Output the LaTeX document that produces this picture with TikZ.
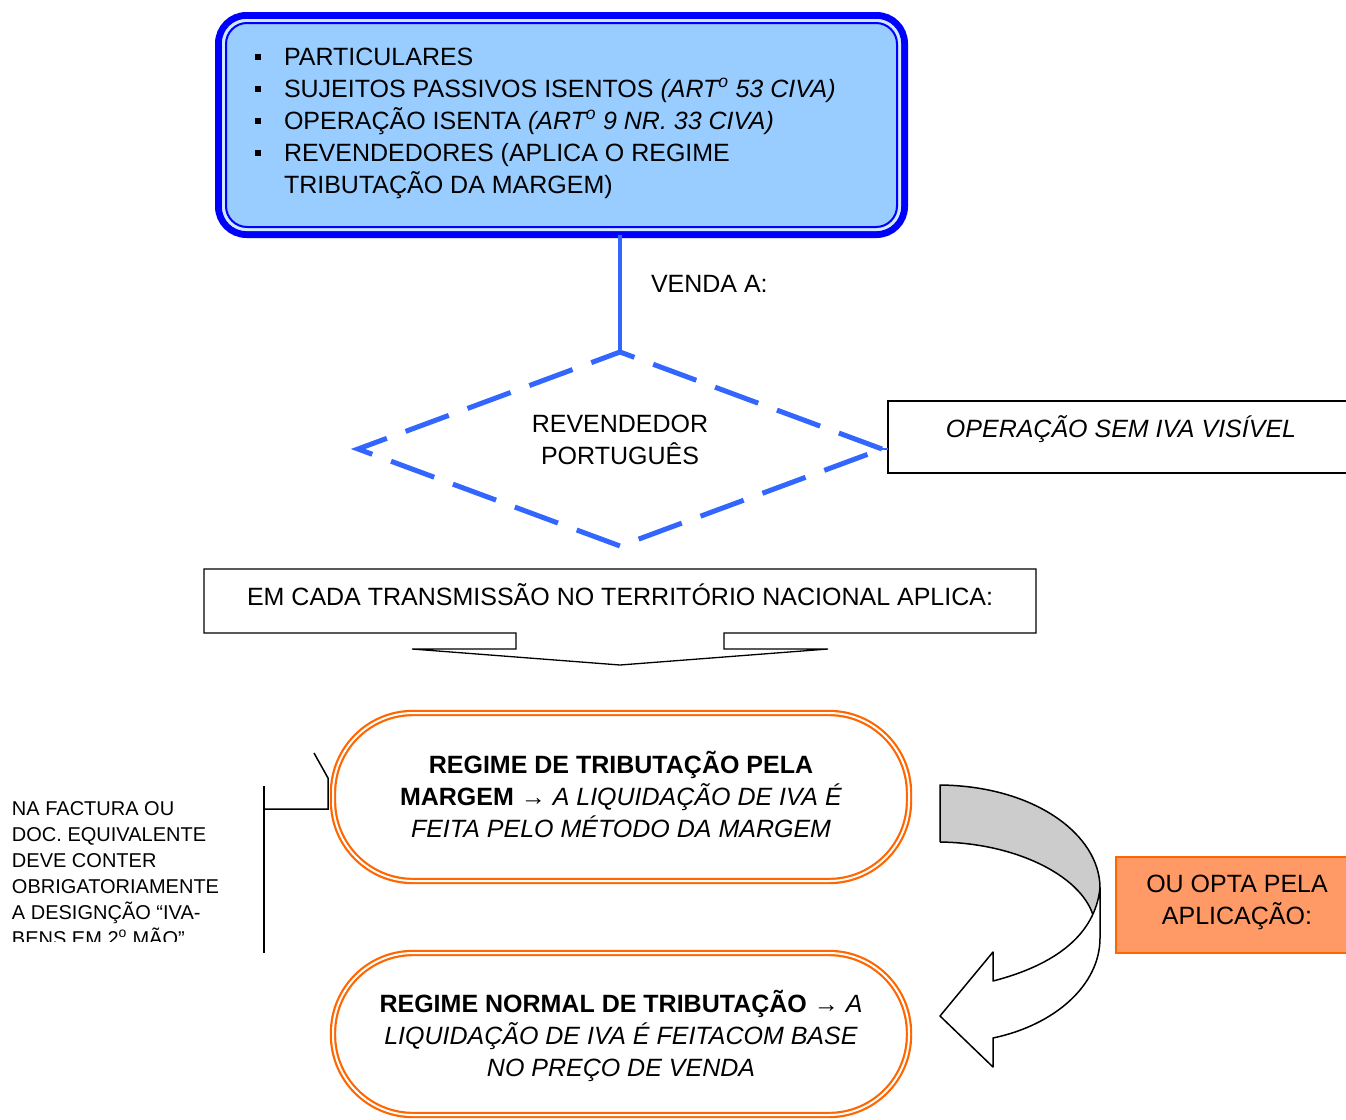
\documentclass[tikz,border=0pt]{standalone}
\usepackage{fontspec}
\setmainfont{Liberation Sans}
\usetikzlibrary{shapes.geometric}
\definecolor{boxblue}{HTML}{99CCFF}
\definecolor{deepblue}{HTML}{0000FF}
\definecolor{linkblue}{HTML}{3366FF}
\definecolor{orng}{HTML}{FF6600}
\definecolor{lorng}{HTML}{FF9966}
\definecolor{arrgray}{HTML}{CCCCCC}
\tikzset{
 base/.style={inner sep=0pt, outer sep=0pt},
 txt/.style={base, font=\fontsize{25}{32}\selectfont},
 smalltxt/.style={base, font=\fontsize{20}{26}\selectfont},
 bulletsq/.style={base, fill=black, minimum size=6pt},
 stadium/.style={base, rectangle, rounded corners=80pt, draw=orng, line width=2.2pt, double=white, double distance=2pt, minimum width=576pt},
 plainbox/.style={base, draw=black, line width=1.3pt},
 outl/.style={draw=black, line width=1.5pt, line join=round},
}
\begin{document}
\begin{tikzpicture}[x=1pt,y=-1pt]
\useasboundingbox (0,0) rectangle (1346,1119);

% top box
\node[base, rectangle, draw=deepblue, line width=7pt, fill=boxblue, rounded corners=28pt, minimum width=686pt, minimum height=219pt] (top) at (561.5,125) {};
\draw[white!55!boxblue, line width=3pt, rounded corners=23pt] ([shift={(5,5)}]top.north west) rectangle ([shift={(-5,-5)}]top.south east);
\draw[deepblue, line width=2pt, rounded corners=21pt] ([shift={(7.5,7.5)}]top.north west) rectangle ([shift={(-7.5,-7.5)}]top.south east);
\foreach \i/\yy in {1/57,2/89,3/121,4/153} \node[bulletsq] (b\i) at (258,\yy) {};
\node[txt, anchor=base west] (t1) at (284,65) {PARTICULARES};
\node[txt, anchor=base west] (t2) at (284,97) {SUJEITOS PASSIVOS ISENTOS \textit{(ART\textsuperscript{o} 53 CIVA)}};
\node[txt, anchor=base west] (t3) at (284,129) {OPERAÇÃO ISENTA \textit{(ART\textsuperscript{o} 9 NR. 33 CIVA)}};
\node[txt, anchor=base west] (t4) at (284,161) {REVENDEDORES (APLICA O REGIME};
\node[txt, anchor=base west] (t5) at (284,193) {TRIBUTAÇÃO DA MARGEM)};

% diamond
\node[base, diamond, draw=linkblue, line width=5pt, dash pattern=on 46pt off 20pt, minimum width=524pt, minimum height=194pt] (dia) at (620,449) {};
\node[txt, align=center] (diatext) at (620,440) {REVENDEDOR\\PORTUGUÊS};
\draw[linkblue, line width=4.5pt] (top.south -| dia.north) -- (dia.north);
\node[txt, anchor=base west] (venda) at (651,292) {VENDA A:};

% operation box
\node[plainbox, minimum width=470pt, minimum height=72pt, anchor=north west] (opbox) at (888,401) {};
\node[txt, anchor=base] (optext) at (1121,437) {\textit{OPERAÇÃO SEM IVA VISÍVEL}};
\draw[linkblue, line width=2pt] (dia.east) -- (dia.east -| opbox.west);

% down arrow callout
\node[txt, anchor=base] (emcada) at (620,605) {EM CADA TRANSMISSÃO NO TERRITÓRIO NACIONAL APLICA:};
\draw[black, line width=1.3pt] (204,569) -- (1036,569) -- (1036,633) -- (724,633) -- (724,649) -- (828,649) -- (620,665) -- (412,649) -- (516,649) -- (516,633) -- (204,633) -- cycle;

% stadiums
\node[stadium, minimum height=168pt] (marg) at (621,797) {};
\node[txt, align=center] (margtext) at (621,794) {\textbf{REGIME DE TRIBUTAÇÃO PELA}\\\textbf{MARGEM} → \textit{A LIQUIDAÇÃO DE IVA É}\\\textit{FEITA PELO MÉTODO DA MARGEM}};
\node[stadium, minimum height=162pt] (norm) at (621,1034) {};
\node[txt, align=center] (normtext) at (621,1036) {\textbf{REGIME NORMAL DE TRIBUTAÇÃO} → \textit{A}\\\textit{LIQUIDAÇÃO DE IVA É FEITACOM BASE}\\\textit{NO PREÇO DE VENDA}};

% left note
\begin{scope}
\clip (0,740) rectangle (250,941);
\node[smalltxt, anchor=base west] (l1) at (12,815) {NA FACTURA OU};
\node[smalltxt, anchor=base west] (l2) at (12,841) {DOC. EQUIVALENTE};
\node[smalltxt, anchor=base west] (l3) at (12,867) {DEVE CONTER};
\node[smalltxt, anchor=base west] (l4) at (12,893) {OBRIGATORIAMENTE};
\node[smalltxt, anchor=base west] (l5) at (12,919) {A DESIGNÇÃO “IVA-};
\node[smalltxt, anchor=base west] (l6) at (12,945) {BENS EM 2\textsuperscript{o} MÃO”};
\end{scope}
\coordinate (k1) at (314,753);
\coordinate (k2) at (328,778);
\coordinate (k3) at (328,809);
\coordinate (k4) at (264,809);
\coordinate (k5) at (264,786);
\coordinate (k6) at (264,953);
\draw[line width=1.5pt] (k1) -- (k2) -- (k3) -- (k4);
\draw[line width=1.5pt] (k5) -- (k6);

% orange box
\node[base, draw=orng, line width=2pt, fill=lorng, minimum width=242pt, minimum height=96pt, anchor=north west] (opta) at (1116,857) {};
\node[txt, align=center] (optatext) at (1237,902) {OU OPTA PELA\\APLICAÇÃO:};

% curved arrow
\fill[arrgray] (940,785) .. controls (1035,786) and (1100,835) .. (1100,888) -- (1100,930) -- (1093,915) .. controls (1080,875) and (1015,843) .. (940,842) -- cycle;
\draw[outl] (940,842) -- (940,785) .. controls (1035,786) and (1100,835) .. (1100,888);
\draw[outl] (940,842) .. controls (1015,843) and (1080,875) .. (1093,915);
\filldraw[outl, fill=white] (1100,888) -- (1100,938) .. controls (1100,985) and (1055,1025) .. (993,1038) -- (993,1067) -- (940,1016) -- (993,952) -- (993,981) .. controls (1055,965) and (1095,935) .. (1100,888) -- cycle;
\end{tikzpicture}
\end{document}
